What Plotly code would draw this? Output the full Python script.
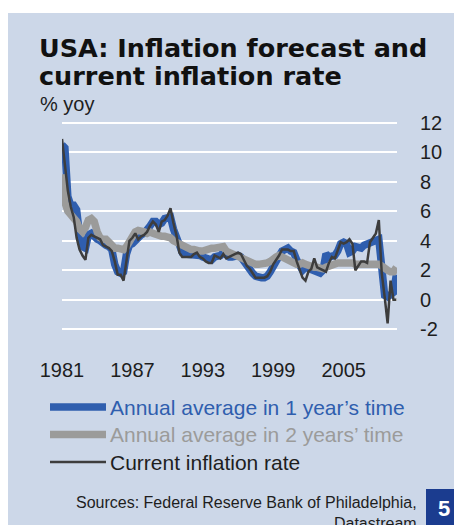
import pandas as pd
import plotly.graph_objects as go

# ---------------------------------------------------------------------------
# Data (quarterly, % yoy)
# ---------------------------------------------------------------------------
forecast_1y = [
    10.5, 10.3, 7.0, 6.4,   6.4, 6.1, 4.4, 3.6,   3.5, 4.4, 4.5, 4.2,   # 81-83
    4.1, 4.0, 3.8, 3.7,     3.6, 3.4, 2.4, 1.9,   1.8, 1.9, 3.1, 3.7,   # 84-86
    3.8, 4.0, 4.3, 4.4,     4.5, 4.7, 5.0, 5.3,   5.3, 5.1, 5.2, 5.5,   # 87-89
    5.5, 5.6, 4.8, 4.3,     3.6, 3.2, 3.1, 3.1,   3.0, 3.0, 3.1, 3.0,   # 90-92
    2.9, 2.8, 2.7, 2.7,     2.9, 2.9, 3.0, 3.2,   3.0, 2.9, 2.9, 3.0,   # 93-95
    3.0, 2.9, 2.6, 2.2,     1.9, 1.8, 1.6, 1.5,   1.5, 1.5, 1.6, 1.9,   # 96-98
    2.3, 2.6, 3.0, 3.3,     3.4, 3.5, 3.3, 3.2,   2.7, 2.3, 2.0, 2.2,   # 99-01
    2.1, 2.0, 1.9, 1.8,     1.8, 2.0, 3.1, 2.9,   2.9, 3.0, 3.3, 3.8,   # 02-04
    3.9, 3.8, 3.2, 3.3,     3.6, 3.6, 3.5, 3.7,   3.8, 3.9, 3.9, 4.0,   # 05-07
    4.1, 2.2, 0.3, 0.2,     0.3, 0.5, 1.7,                              # 08-09
]
forecast_2y = [
    8.5, 6.6, 6.0, 5.8,     5.5, 5.3, 4.8, 4.6,   4.9, 5.4, 5.5, 5.3,
    4.6, 4.2, 4.1, 4.1,     3.9, 3.6, 3.5, 3.5,   3.4, 3.4, 3.6, 4.0,
    4.3, 4.6, 4.7, 4.7,     4.6, 4.5, 4.6, 4.5,   4.4, 4.3, 4.3, 4.3,
    4.3, 4.2, 4.0, 3.9,     3.7, 3.6, 3.5, 3.5,   3.4, 3.4, 3.3, 3.3,
    3.3, 3.4, 3.4, 3.5,     3.5, 3.5, 3.6, 3.6,   3.3, 3.2, 3.1, 3.1,
    3.0, 2.9, 2.7, 2.6,     2.5, 2.4, 2.4, 2.4,   2.4, 2.5, 2.5, 2.6,
    2.8, 2.9, 3.0, 2.9,     2.8, 2.7, 2.5, 2.5,   2.4, 2.4, 2.5, 2.4,
    2.3, 2.3, 2.2, 2.2,     2.1, 2.1, 2.2, 2.3,   2.4, 2.4, 2.5, 2.5,
    2.5, 2.6, 2.5, 2.5,     2.4, 2.4, 2.5, 2.5,   2.5, 2.5, 2.4, 2.4,
    2.4, 2.3, 2.1, 2.0,     1.9, 1.9, 2.2,
]
current_rate = [
    10.9, 9.2, 7.4, 6.3,    5.6, 4.2, 3.4, 3.0,   2.7, 4.2, 4.4, 4.3,
    4.2, 4.1, 3.7, 3.6,     3.5, 3.3, 2.6, 1.7,   1.7, 1.3, 2.8, 4.0,
    4.2, 4.5, 4.1, 4.3,     4.4, 4.6, 5.0, 5.3,   5.1, 4.6, 5.3, 5.4,
    5.7, 6.2, 5.2, 4.4,     3.2, 2.9, 2.9, 2.9,   2.9, 3.1, 3.2, 2.9,
    2.8, 2.6, 2.5, 2.5,     3.0, 2.9, 2.8, 3.1,   2.8, 2.9, 3.0, 3.1,
    3.2, 3.1, 2.7, 2.3,     2.1, 1.8, 1.5, 1.5,   1.5, 1.5, 1.6, 1.9,
    2.4, 2.7, 3.0, 3.4,     3.4, 3.4, 3.3, 3.3,   2.6, 2.0, 1.5, 1.3,
    1.9, 2.1, 2.8, 2.2,     2.1, 2.0, 1.9, 2.5,   2.9, 2.8, 3.3, 3.9,
    3.8, 3.9, 4.1, 3.8,     2.0, 2.3, 2.6, 2.6,   2.5, 3.9, 4.2, 4.5,
    5.4, 1.8, 0.2, -1.6,    1.3, 0.0, 0.0,
]
quarters = pd.date_range("1981-01-01", periods=len(current_rate), freq="QS")

series_names = [
    "Annual average in 1 year\u2019s time",
    "Annual average in 2 years\u2019 time",
    "Current inflation rate",
]
year_ticks = ["1981", "1987", "1993", "1999", "2005"]
y_ticks = [-2, 0, 2, 4, 6, 8, 10, 12]

# ---------------------------------------------------------------------------
# Style
# ---------------------------------------------------------------------------
# the page body has an 8px margin, so the figure is 8px smaller than the
# window and all positions below are given in window pixels minus that offset
PAGE_W, PAGE_H, BODY = 462, 525, 8
W, H = PAGE_W - BODY, PAGE_H - BODY
PANEL = "#CCD7E8"
C_BLUE = "#2F5EAE"
C_GREY = "#9B9B9A"
C_DARK = "#3D3D3D"
C_TEXT = "#1E1E1E"
FONT = "Liberation Sans, Arial, sans-serif"


def px_x(x):
    return (x - BODY) / W


def px_y(y):
    return 1 - (y - BODY) / H


fig = go.Figure()
fig.add_trace(go.Scatter(x=quarters, y=forecast_1y, mode="lines",
                         line=dict(color=C_BLUE, width=7.5)))
fig.add_trace(go.Scatter(x=quarters, y=forecast_2y, mode="lines",
                         line=dict(color=C_GREY, width=7.5)))
fig.add_trace(go.Scatter(x=quarters, y=current_rate, mode="lines",
                         line=dict(color=C_DARK, width=2.5)))

shapes = [
    # light blue panel behind everything
    dict(type="rect", xref="paper", yref="paper", layer="below",
         x0=0, x1=1, y0=0, y1=px_y(13),
         fillcolor=PANEL, line_width=0),
    # page-number box
    dict(type="rect", xref="paper", yref="paper",
         x0=px_x(426), x1=1, y0=0, y1=px_y(489),
         fillcolor="#1B3C8F", line_width=0),
]

TITLE_FONT = dict(family="DejaVu Sans", size=25.5, color="#111111")
annotations = [
    dict(text="<b>USA: Inflation forecast and</b>", x=px_x(37), y=px_y(65.5),
         xanchor="left", yanchor="bottom", font=TITLE_FONT),
    dict(text="<b>current inflation rate</b>", x=px_x(37), y=px_y(92.5),
         xanchor="left", yanchor="bottom", font=TITLE_FONT),
    dict(text="% yoy", x=px_x(38), y=px_y(117), xanchor="left",
         yanchor="bottom", font=dict(family=FONT, size=20, color=C_TEXT)),
    dict(text="Sources: Federal Reserve Bank of Philadelphia,<br>Datastream",
         x=px_x(419), y=px_y(492), xanchor="right", yanchor="top",
         align="right", font=dict(family=FONT, size=16, color=C_TEXT)),
    dict(text="<b>5</b>", x=px_x(444), y=px_y(508), xanchor="center",
         yanchor="middle", font=dict(family=FONT, size=22, color="white")),
]

# legend drawn by hand so the swatches can be long and the text coloured
for i, (name, col, lw) in enumerate(zip(series_names,
                                        [C_BLUE, C_GREY, C_DARK],
                                        [7.5, 7.5, 2.5])):
    ly = 407 + i * 27.5
    shapes.append(dict(type="line", xref="paper", yref="paper",
                       x0=px_x(50), x1=px_x(106), y0=px_y(ly), y1=px_y(ly),
                       line=dict(color=col, width=lw)))
    annotations.append(dict(text=name, x=px_x(107.5), y=px_y(ly),
                            xanchor="left", yanchor="middle",
                            font=dict(family=FONT, size=21,
                                      color=col if i < 2 else C_TEXT)))

for a in annotations:
    a.update(xref="paper", yref="paper", showarrow=False)

fig.update_layout(
    width=W, height=H,
    margin=dict(l=0, r=0, t=0, b=0),
    paper_bgcolor="white",
    plot_bgcolor="rgba(0,0,0,0)",
    showlegend=False,
    shapes=shapes,
    annotations=annotations,
    xaxis=dict(
        domain=[px_x(62), px_x(397)],
        range=["1981-01-01", "2009-07-20"],
        tickvals=[f"{y}-01-01" for y in year_ticks],
        ticktext=year_ticks,
        showgrid=False, zeroline=False, showline=False, ticks="",
        automargin=False,
        ticklabelstandoff=22,
        tickfont=dict(family=FONT, size=20, color=C_TEXT),
    ),
    yaxis=dict(
        domain=[px_y(333.7), px_y(118.3)],
        range=[-2.3, 12.3],
        side="right",
        tickvals=y_ticks,
        ticktext=[str(v) for v in y_ticks],   # plain hyphen for "-2"
        showgrid=True, gridcolor="white", gridwidth=2.2,
        zeroline=False, showline=False, ticks="",
        automargin=False,
        ticklabelstandoff=22,
        tickfont=dict(family=FONT, size=20, color=C_TEXT),
    ),
)

fig.write_html("out.html")
